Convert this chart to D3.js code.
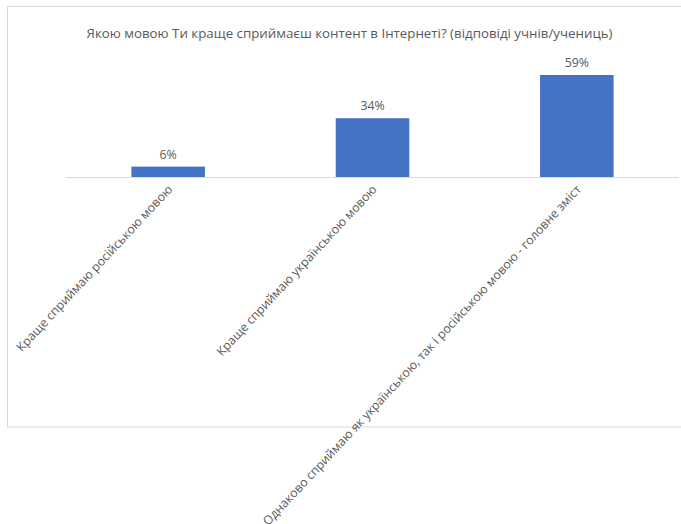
<!DOCTYPE html>
<html>
<head>
<meta charset="utf-8">
<script src="https://cdn.jsdelivr.net/npm/d3@7"></script>
<style>
  html, body { margin: 0; padding: 0; background: #fff; }
  svg { display: block; }
  text { font-family: "Open Sans", "Noto Sans", sans-serif; fill: #595959; }
</style>
</head>
<body>
<svg id="chart" width="681" height="524"></svg>
<script>
const title = "Якою мовою Ти краще сприймаєш контент в Інтернеті? (відповіді учнів/учениць)";
const categories = [
  "Краще сприймаю російською мовою",
  "Краще сприймаю українською мовою",
  "Однаково сприймаю як українською, так і російською мовою - головне зміст"
];
const values = [0.06, 0.34, 0.59];
const valueLabels = ["6%", "34%", "59%"];

const svg = d3.select("#chart");

// chart frame
svg.append("rect")
  .attr("x", 7.5).attr("y", 6.5)
  .attr("width", 700).attr("height", 420.5)
  .attr("fill", "none").attr("stroke", "#d9d9d9").attr("stroke-width", 1);

svg.append("text")
  .attr("x", 349.5).attr("y", 38)
  .attr("text-anchor", "middle")
  .style("font-size", "13.3px")
  .text(title);

const x = d3.scaleBand().domain(categories).range([66, 679]).paddingInner(0.64).paddingOuter(0.32);
const y = d3.scaleLinear().domain([0, 0.59]).range([177, 75]);

svg.append("g").selectAll("rect").data(values).join("rect")
  .attr("x", (d, i) => x(categories[i]))
  .attr("width", x.bandwidth())
  .attr("y", d => y(d))
  .attr("height", d => y(0) - y(d))
  .attr("fill", "#4472c4");

const axis = svg.append("g").attr("transform", `translate(0,${y(0)})`)
  .call(d3.axisBottom(x).tickSize(0).tickPadding(0));
axis.select(".domain").attr("stroke", "#d9d9d9").attr("stroke-width", 1.2).attr("d", "M66,0.5H679");
axis.selectAll(".tick text")
  .attr("text-anchor", "end")
  .attr("dy", null)
  .attr("transform", "translate(5,13) rotate(-47)")
  .style("font-size", "12.3px")
  .style("font-family", "'Open Sans', sans-serif")
  .attr("fill", "#595959");

svg.append("g").selectAll("text").data(values).join("text")
  .attr("x", (d, i) => x(categories[i]) + x.bandwidth() / 2)
  .attr("y", d => y(d) - 8)
  .attr("text-anchor", "middle")
  .style("font-size", "12.3px")
  .text((d, i) => valueLabels[i]);
</script>
</body>
</html>
